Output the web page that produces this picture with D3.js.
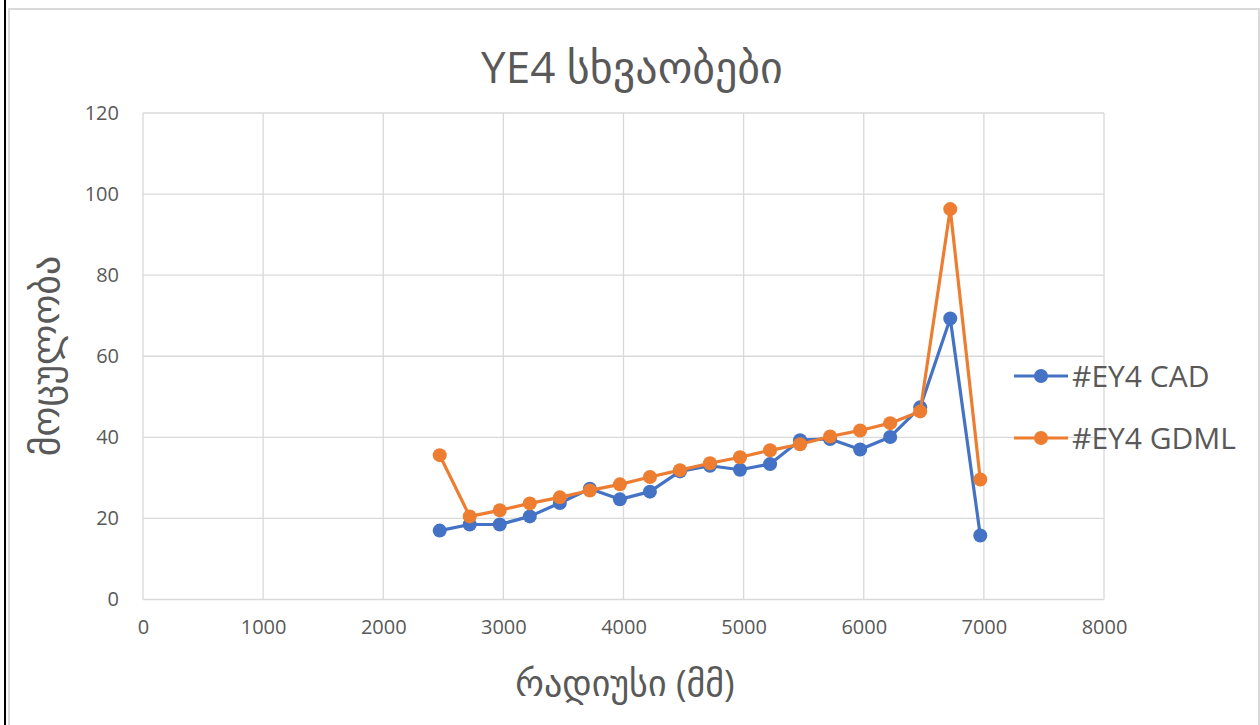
<!DOCTYPE html>
<html>
<head>
<meta charset="utf-8">
<script src="https://cdn.jsdelivr.net/npm/d3@7"></script>
<style>
  html, body { margin: 0; padding: 0; background: #fff; }
  svg { display: block; }
</style>
</head>
<body>
<svg id="chart" width="1260" height="725"></svg>
<script>
// Radius values (mm) shared by both series
const radius = [2470, 2720, 2970, 3220, 3470, 3720, 3970, 4220, 4470, 4720,
                4970, 5220, 5470, 5720, 5970, 6220, 6470, 6720, 6970];
// Volume per radius, CAD model
const cadValues = [17.0, 18.5, 18.5, 20.5, 23.8, 27.3, 24.7, 26.6, 31.6, 33.0,
                   32.0, 33.4, 39.3, 39.6, 37.0, 40.1, 47.4, 69.3, 15.8];
// Volume per radius, GDML model
const gdmlValues = [35.6, 20.5, 22.0, 23.7, 25.2, 26.9, 28.4, 30.2, 31.9, 33.6,
                    35.1, 36.8, 38.3, 40.2, 41.7, 43.5, 46.4, 96.3, 29.6];
const seriesNames = ["#EY4 CAD", "#EY4 GDML"];
const seriesColors = ["#4472C4", "#ED7D31"];
const xTicks = [0, 1000, 2000, 3000, 4000, 5000, 6000, 7000, 8000];
const yTicks = [0, 20, 40, 60, 80, 100, 120];

const svg = d3.select("#chart");
const font = "'Open Sans', 'DejaVu Sans', sans-serif";
const textColor = "#595959";

// Outer frame
svg.append("line").attr("x1", 5).attr("x2", 5).attr("y1", 0).attr("y2", 725)
  .attr("stroke", "#000").attr("stroke-width", 2);
svg.append("path").attr("d", "M9,725 V9 H1259 V725")
  .attr("fill", "none").attr("stroke", "#d9d9d9").attr("stroke-width", 2);

const plot = { left: 143, right: 1104, top: 113, bottom: 599.5 };

const x = d3.scaleLinear().domain([0, 8000]).range([plot.left, plot.right]);
const y = d3.scaleLinear().domain([0, 120]).range([plot.bottom, plot.top]);

// Gridlines
svg.append("g").selectAll("line").data(yTicks).join("line")
  .attr("x1", plot.left).attr("x2", plot.right)
  .attr("y1", d => y(d)).attr("y2", d => y(d))
  .attr("stroke", "#d9d9d9").attr("stroke-width", 1.3);
svg.append("g").selectAll("line").data(xTicks).join("line")
  .attr("x1", d => x(d)).attr("x2", d => x(d))
  .attr("y1", plot.top).attr("y2", plot.bottom)
  .attr("stroke", "#d9d9d9").attr("stroke-width", 1.3);

// Axes (labels only, lines drawn by gridlines)
const yAxis = svg.append("g").attr("transform", `translate(${plot.left - 24},0)`)
  .call(d3.axisLeft(y).tickValues(yTicks).tickFormat(d3.format("d"))
    .tickSize(0).tickPadding(0));
yAxis.select(".domain").remove();
yAxis.selectAll("text").attr("font-family", font).attr("font-size", 20)
  .attr("fill", textColor);

const xAxis = svg.append("g").attr("transform", `translate(0,${plot.bottom + 20})`)
  .call(d3.axisBottom(x).tickValues(xTicks).tickFormat(d3.format("d"))
    .tickSize(0).tickPadding(0));
xAxis.select(".domain").remove();
xAxis.selectAll("text").attr("font-family", font).attr("font-size", 20)
  .attr("fill", textColor);

// Title and axis titles
svg.append("text").attr("x", 632).attr("y", 83).attr("text-anchor", "middle")
  .attr("font-family", font).attr("font-size", 44).attr("fill", textColor)
  .text("YE4 სხვაობები");
svg.append("text").attr("x", 625).attr("y", 696).attr("text-anchor", "middle")
  .attr("font-family", font).attr("font-size", 36).attr("fill", textColor)
  .text("რადიუსი (მმ)");
svg.append("text").attr("transform", "translate(59,356) rotate(-90)")
  .attr("text-anchor", "middle")
  .attr("font-family", font).attr("font-size", 38).attr("fill", textColor)
  .text("მოცულობა");

// Series
const series = [cadValues, gdmlValues];
const line = d3.line().x((d, i) => x(radius[i])).y(d => y(d));
series.forEach((vals, s) => {
  const g = svg.append("g");
  g.append("path").datum(vals).attr("d", line)
    .attr("fill", "none").attr("stroke", seriesColors[s]).attr("stroke-width", 3.2)
    .attr("stroke-linejoin", "round");
  g.selectAll("circle").data(vals).join("circle")
    .attr("cx", (d, i) => x(radius[i])).attr("cy", d => y(d)).attr("r", 7)
    .attr("fill", seriesColors[s]);
});

// Legend
const legend = svg.append("g");
seriesNames.forEach((name, s) => {
  const ly = 376 + s * 62;
  legend.append("line").attr("x1", 1014).attr("x2", 1068).attr("y1", ly).attr("y2", ly)
    .attr("stroke", seriesColors[s]).attr("stroke-width", 3.2);
  legend.append("circle").attr("cx", 1041).attr("cy", ly).attr("r", 7)
    .attr("fill", seriesColors[s]);
  legend.append("text").attr("x", 1072).attr("y", ly).attr("dy", "0.35em")
    .attr("font-family", font).attr("font-size", 30).attr("fill", textColor)
    .text(name);
});
</script>
</body>
</html>
